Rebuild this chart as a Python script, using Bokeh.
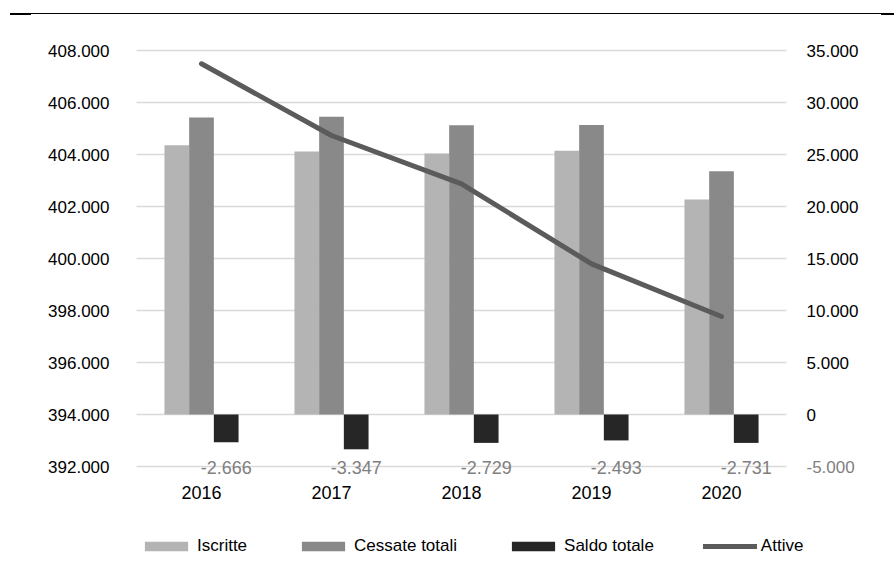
from bokeh.plotting import figure
from bokeh.models import (ColumnDataSource, Range1d, LinearAxis, FixedTicker,
                          Legend, LegendItem, LabelSet, Div)
from bokeh.core.properties import value
from bokeh.transform import dodge
from bokeh.layouts import column
from bokeh.embed import file_html
from bokeh.resources import INLINE

# --- data -------------------------------------------------------------
years = ["2016", "2017", "2018", "2019", "2020"]
iscritte = [25890, 25285, 25090, 25350, 20668]
cessate = [28556, 28632, 27819, 27843, 23399]
saldo = [-2666, -3347, -2729, -2493, -2731]
attive = [407488, 404731, 402872, 399795, 397770]

left_ticks = [392000, 394000, 396000, 398000, 400000, 402000, 404000, 406000, 408000]
left_labels = ["392.000", "394.000", "396.000", "398.000", "400.000",
               "402.000", "404.000", "406.000", "408.000"]
right_ticks = [0, 5000, 10000, 15000, 20000, 25000, 30000, 35000]
right_labels = ["0", "5.000", "10.000", "15.000", "20.000", "25.000", "30.000", "35.000"]
right_neg_ticks = [-5000]
right_neg_labels = ["-5.000"]


def it_num(v):
    return f"{v:,}".replace(",", ".")


# --- layout constants (pixels) ------------------------------------------
W_FIG, H_FIG, H_HEAD = 894, 555, 20
PLOT_L, PLOT_R = 136, 786              # horizontal extent of the chart area
PLOT_T, PLOT_B = 50 - H_HEAD, 466 - H_HEAD   # vertical extent inside the figure
CAT_PX = (PLOT_R - PLOT_L) / len(years)

lmin, lmax = left_ticks[0], left_ticks[-1]
rmin, rmax = right_neg_ticks[0], right_ticks[-1]
l_per_px = (lmax - lmin) / (PLOT_B - PLOT_T)
r_per_px = (rmax - rmin) / (PLOT_B - PLOT_T)

FONT = "Liberation Sans"
C_ISCR = "#b4b4b4"
C_CESS = "#898989"
C_SALDO = "#262626"
C_LINE = "#5b5b5b"
C_GRID = "#d9d9d9"
C_NEG = "#808080"

xpos = [i + 0.5 for i in range(len(years))]
src = ColumnDataSource(dict(
    x=xpos, year=years, iscritte=iscritte, cessate=cessate, saldo=saldo, attive=attive,
    saldo_lbl=[it_num(v) for v in saldo],
))

# the frame fills the whole figure; axes sit at fixed data locations inside it
p = figure(width=W_FIG, height=H_FIG, output_backend="svg", toolbar_location=None,
           x_range=Range1d(-PLOT_L / CAT_PX, (W_FIG - PLOT_L) / CAT_PX),
           y_range=Range1d(lmin - (H_FIG - PLOT_B) * l_per_px, lmax + PLOT_T * l_per_px),
           min_border=0, min_border_left=0, min_border_right=0,
           min_border_top=0, min_border_bottom=0, x_axis_type=None, y_axis_type=None)
p.extra_y_ranges = {"bars": Range1d(rmin - (H_FIG - PLOT_B) * r_per_px, rmax + PLOT_T * r_per_px)}
p.outline_line_color = None
p.background_fill_color = "white"
p.border_fill_color = "white"
p.xgrid.visible = False
p.ygrid.visible = False


def style_axis(ax, color="#000000", size="17px", standoff=10):
    ax.axis_line_color = None
    ax.major_tick_line_color = None
    ax.minor_tick_line_color = None
    ax.major_label_standoff = standoff
    ax.major_label_text_font = FONT
    ax.major_label_text_font_size = size
    ax.major_label_text_color = color


# left axis (Attive)
ax_l = LinearAxis(ticker=FixedTicker(ticks=left_ticks), fixed_location=0)
ax_l.major_label_overrides = dict(zip(left_ticks, left_labels))
style_axis(ax_l, standoff=21)
p.add_layout(ax_l, "left")

# right axis (bars); the negative tick is grey like the other negative numbers
ax_r = LinearAxis(y_range_name="bars", ticker=FixedTicker(ticks=right_ticks),
                  fixed_location=len(years))
ax_r.major_label_overrides = dict(zip(right_ticks, right_labels))
style_axis(ax_r, standoff=14)
p.add_layout(ax_r, "right")

ax_rn = LinearAxis(y_range_name="bars", ticker=FixedTicker(ticks=right_neg_ticks),
                   fixed_location=len(years))
ax_rn.major_label_overrides = dict(zip(right_neg_ticks, right_neg_labels))
style_axis(ax_rn, color=C_NEG, standoff=14)
p.add_layout(ax_rn, "right")

# category axis
ax_x = LinearAxis(ticker=FixedTicker(ticks=xpos), fixed_location=lmin)
ax_x.major_label_overrides = dict(zip(xpos, years))
style_axis(ax_x, size="18px", standoff=13)
p.add_layout(ax_x, "below")

# horizontal gridlines across the chart area only
p.segment(x0=0, x1=len(years), y0=left_ticks, y1=left_ticks,
          line_color=C_GRID, line_width=1.5)

# --- bars -------------------------------------------------------------
W = 0.19
r_i = p.vbar(x=dodge("x", -W), top="iscritte", bottom=0, width=W,
             source=src, y_range_name="bars", fill_color=C_ISCR, line_color=None)
r_c = p.vbar(x=dodge("x", 0), top="cessate", bottom=0, width=W,
             source=src, y_range_name="bars", fill_color=C_CESS, line_color=None)
r_s = p.vbar(x=dodge("x", W), top=0, bottom="saldo", width=W,
             source=src, y_range_name="bars", fill_color=C_SALDO, line_color=None)

# --- line -------------------------------------------------------------
r_l = p.line(x="x", y="attive", source=src, line_color=C_LINE, line_width=5,
             line_cap="round", line_join="round")

# value labels of the balance bars, on the lowest gridline
p.add_layout(LabelSet(x=dodge("x", W), y=rmin, y_range_name="bars",
                      text="saldo_lbl", source=src, text_align="center", text_baseline="middle",
                      text_font=value(FONT), text_font_size=value("18px"),
                      text_color=value(C_NEG), y_offset=-1))

# --- legend -----------------------------------------------------------
legend = Legend(items=[LegendItem(label="Iscritte", renderers=[r_i]),
                       LegendItem(label="Cessate totali", renderers=[r_c]),
                       LegendItem(label="Saldo totale", renderers=[r_s]),
                       LegendItem(label="Attive", renderers=[r_l])],
                orientation="horizontal", location=(139, 19),
                glyph_width=54, glyph_height=12, label_height=12, label_standoff=4, spacing=49,
                padding=0, margin=0, border_line_color=None, background_fill_alpha=0,
                label_text_font=FONT, label_text_font_size="17px", label_text_color="#000000",
                label_text_baseline="middle")
p.add_layout(legend, "center")

# thin page rule above the chart, with heavier end pieces
header = Div(text=(
    '<div style="position:relative;width:894px;height:20px;">'
    '<div style="position:absolute;left:10px;top:13px;width:21px;height:2px;background:#000;"></div>'
    '<div style="position:absolute;left:31px;top:13px;width:850px;height:1px;background:#000;"></div>'
    '<div style="position:absolute;left:881px;top:13px;width:13px;height:2px;background:#000;"></div>'
    '</div>'), width=W_FIG, height=H_HEAD, margin=0)

layout = column(header, p, spacing=0)
open("out.html", "w").write(file_html(layout, INLINE))
